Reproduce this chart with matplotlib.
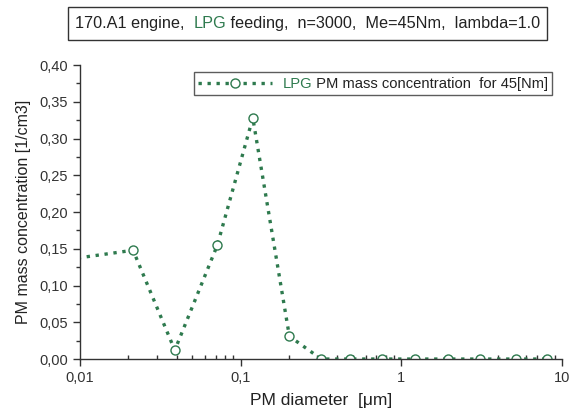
import numpy as np
import matplotlib.pyplot as plt
from matplotlib.patches import Rectangle
from matplotlib.ticker import FixedLocator, LogLocator, NullFormatter, MultipleLocator

plt.rcParams['font.family'] = ['Liberation Sans', 'DejaVu Sans']

# datos
diametro = [0.0075, 0.0214, 0.0389, 0.0716, 0.119, 0.201, 0.317, 0.482, 0.759, 1.22, 1.94, 3.08, 5.15, 8.1]
masa = [0.134, 0.148, 0.012, 0.155, 0.328, 0.031, 0.0, 0.0, 0.0, 0.0, 0.0, 0.0, 0.0, 0.0]
xticks = [0.01, 0.1, 1, 10]
xticklabels = ['0,01', '0,1', '1', '10']
yticks = [0.0, 0.05, 0.10, 0.15, 0.20, 0.25, 0.30, 0.35, 0.40]

verde = '#2E7A4E'

fig = plt.figure(figsize=(5.73, 4.12), dpi=100)
ax = fig.add_axes([0.1396, 0.1286, 0.8412, 0.7136])

ax.plot(diametro, masa, color=verde, lw=2.4, dashes=(1.0, 1.7),
        marker='o', ms=6.5, mfc='white', mec=verde, mew=1.0,
        label='LPG PM mass concentration  for 45[Nm]', clip_on=True)

ax.set_xscale('log')
ax.set_xlim(0.01, 10)
ax.set_ylim(0, 0.40)
ax.xaxis.set_major_locator(FixedLocator(xticks))
ax.set_xticklabels(xticklabels)
ax.xaxis.set_minor_locator(LogLocator(base=10, subs=np.arange(2, 10)))
ax.xaxis.set_minor_formatter(NullFormatter())
ax.set_yticks(yticks)
ax.set_yticklabels([f'{v:.2f}'.replace('.', ',') for v in yticks])
ax.yaxis.set_minor_locator(MultipleLocator(0.025))

ax.spines['top'].set_visible(False)
ax.spines['right'].set_visible(False)
for s in ['left', 'bottom']:
    ax.spines[s].set_linewidth(1.0)
    ax.spines[s].set_color('#333333')
ax.tick_params(axis='both', which='major', labelsize=10.5, length=5, width=1, color='#333333', labelcolor='#333333')
ax.tick_params(axis='y', which='minor', length=3, width=1, color='#333333')
ax.tick_params(axis='x', which='minor', direction='in', length=3, width=1, color='#333333')

ax.set_xlabel('PM diameter  [\u03bcm]', fontsize=12.5, color='#222222', labelpad=6)
ax.set_ylabel('PM mass concentration [1/cm3]', fontsize=11.5, color='#222222', labelpad=6)

# leyenda con "LPG" en verde
fs_leg = 10.6
leg = ax.legend(loc='upper right', bbox_to_anchor=(0.98, 0.975), fontsize=fs_leg, frameon=True,
                fancybox=False, edgecolor='#333333', borderpad=0.3, handlelength=5.0,
                handletextpad=0.7, borderaxespad=0)
leg.get_frame().set_linewidth(1.0)
t = leg.get_texts()[0]
t.set_alpha(0)
a1 = ax.annotate('LPG', xy=(0, 0), xycoords=t, va='bottom', ha='left', fontsize=fs_leg, color=verde,
                 zorder=10, annotation_clip=False)
ax.annotate(' PM mass concentration  for 45[Nm]', xy=(1, 0), xycoords=a1, va='bottom', ha='left',
            fontsize=fs_leg, color='#222222', zorder=11, annotation_clip=False)

# titulo en recuadro
fs_tit = 11.7
fig.patches.append(Rectangle((0.1187, 0.903), 0.836, 0.080, transform=fig.transFigure,
                             fill=False, edgecolor='#333333', lw=1.0))
t1 = fig.text(0.131, 0.943, '170.A1 engine,  ', fontsize=fs_tit, va='center', ha='left', color='#222222')
t2 = ax.annotate('LPG', xy=(1, 0), xycoords=t1, va='bottom', ha='left', fontsize=fs_tit, color=verde,
                 annotation_clip=False)
ax.annotate(' feeding,  n=3000,  Me=45Nm,  lambda=1.0', xy=(1, 0), xycoords=t2, va='bottom', ha='left',
            fontsize=fs_tit, color='#222222', annotation_clip=False)

plt.savefig('out.png', dpi=100)
